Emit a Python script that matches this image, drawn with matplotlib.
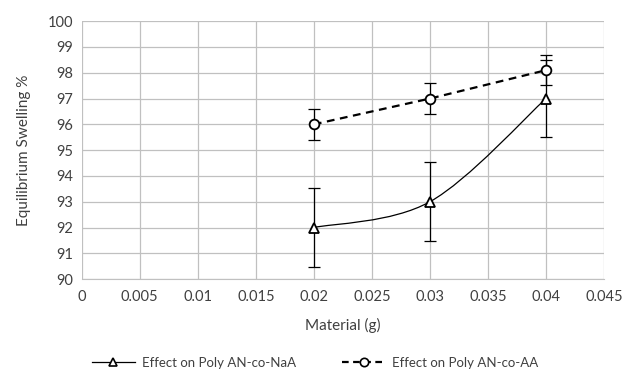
import matplotlib
matplotlib.use("Agg")
import matplotlib.pyplot as plt
from matplotlib.path import Path
from matplotlib.patches import PathPatch
from matplotlib.lines import Line2D
import numpy as np

plt.rcParams['font.family'] = ['Lato', 'DejaVu Sans']

# data
material = [0.02, 0.03, 0.04]
naa_swell = [92.0, 93.0, 97.0]
naa_err = [1.53, 1.53, 1.5]
aa_swell = [96.0, 97.0, 98.1]
aa_err = [0.6, 0.6, 0.58]

xticks = [0, 0.005, 0.01, 0.015, 0.02, 0.025, 0.03, 0.035, 0.04, 0.045]
xticklabels = ['0', '0.005', '0.01', '0.015', '0.02', '0.025', '0.03', '0.035', '0.04', '0.045']

fig = plt.figure(figsize=(6.24, 3.85), dpi=100)
ax = fig.add_axes([0.131, 0.275, 0.837, 0.67])

grid_c = '#c0c0c0'


def smooth_path(xs, ys):
    # Excel-style smoothed line: cubic Bezier through the points
    pts = np.column_stack([xs, ys])
    verts = [pts[0]]
    codes = [Path.MOVETO]
    n = len(pts)
    for i in range(n - 1):
        p_prev = pts[i - 1] if i > 0 else pts[i]
        p_next2 = pts[i + 2] if i + 2 < n else pts[i + 1]
        c1 = pts[i] + (pts[i + 1] - p_prev) / 6
        c2 = pts[i + 1] - (p_next2 - pts[i]) / 6
        verts += [c1, c2, pts[i + 1]]
        codes += [Path.CURVE4] * 3
    return Path(verts, codes)


ax.add_patch(PathPatch(smooth_path(material, naa_swell), fill=False,
                       edgecolor='black', lw=0.9, zorder=3))
ax.errorbar(material, naa_swell, yerr=naa_err, fmt='none', ecolor='black',
            elinewidth=0.9, capsize=4, capthick=0.9, zorder=3)
ax.plot(material, naa_swell, ls='none', marker='^', ms=7, mfc='white',
        mec='black', mew=1.3, zorder=4)

ax.errorbar(material, aa_swell, yerr=aa_err, fmt='none', ecolor='black',
            elinewidth=0.9, capsize=4, capthick=0.9, zorder=3)
ax.plot(material, aa_swell, ls=(0, (3.5, 2.5)), color='black', lw=1.6,
        marker='o', ms=7, mfc='white', mec='black', mew=1.3, zorder=4)

ax.set_xlim(0, 0.045)
ax.set_ylim(90, 100)
ax.set_xticks(xticks)
ax.set_xticklabels(xticklabels)
ax.set_yticks(range(90, 101))
ax.grid(True, color=grid_c, lw=0.9)
ax.set_axisbelow(True)
for s in ax.spines.values():
    s.set_visible(False)
ax.spines['bottom'].set_visible(True)
ax.spines['bottom'].set_color(grid_c)
ax.tick_params(length=0, labelsize=10.5, colors='#404040', pad=8)
ax.tick_params(axis='y', pad=6)

ax.set_xlabel('Material (g)', fontsize=11, color='#404040', labelpad=10)
ax.set_ylabel('Equilibrium Swelling %', fontsize=11, color='#404040', labelpad=12)

h1 = Line2D([], [], color='black', lw=0.9, marker='^', ms=6, mfc='white',
            mec='black', mew=1.2)
h2 = Line2D([], [], color='black', lw=1.6, ls=(0, (3, 2)), marker='o', ms=6,
            mfc='white', mec='black', mew=1.2)
fig.legend([h1, h2], ['Effect on Poly AN-co-NaA', 'Effect on Poly AN-co-AA'],
           loc='center', bbox_to_anchor=(0.505, 0.057), ncol=2, frameon=False,
           fontsize=9.5, handlelength=3.3, handletextpad=0.5,
           columnspacing=3.5, labelcolor='#404040')

fig.savefig('out.png', dpi=100)
